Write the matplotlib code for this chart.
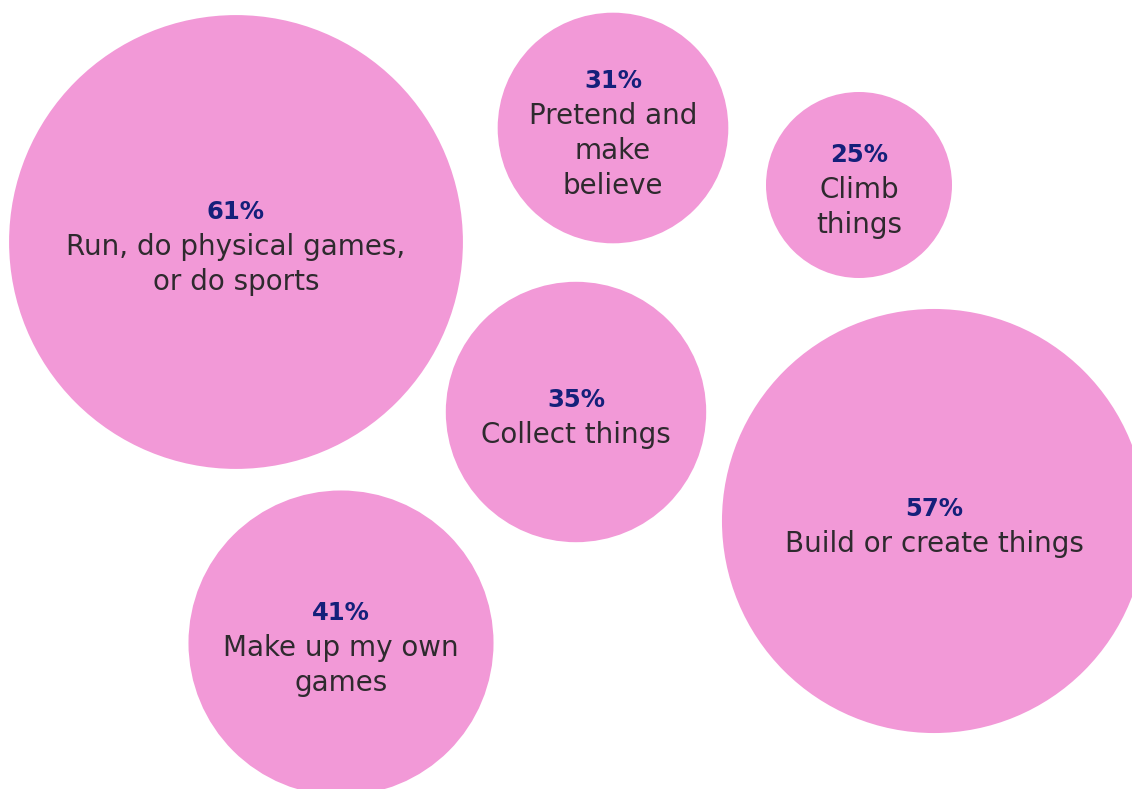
import matplotlib
matplotlib.use("Agg")
import matplotlib.pyplot as plt
from matplotlib.patches import Circle

# data
values = [61, 31, 25, 35, 57, 41]
labels = [
    "Run, do physical games,\nor do sports",
    "Pretend and\nmake\nbelieve",
    "Climb\nthings",
    "Collect things",
    "Build or create things",
    "Make up my own\ngames",
]
# bubble centres (pixel layout)
cx = [236, 613, 859, 576, 934, 341]
cy = [242, 128, 185, 412, 521, 643]

PINK = "#F299D7"
NAVY = "#14207A"
DARK = "#2E2A2E"
scale = 3.72     # radius per percentage point
line_h = 35

plt.rcParams['font.family'] = ['DejaVu Sans']

fig = plt.figure(figsize=(11.32, 7.89), dpi=100)
ax = fig.add_axes([0, 0, 1, 1])
ax.set_xlim(0, 1132)
ax.set_ylim(789, 0)
ax.set_aspect('equal')
ax.axis('off')

for v, lab, x, y in zip(values, labels, cx, cy):
    ax.add_patch(Circle((x, y), v * scale, color=PINK, lw=0))
    lines = lab.split("\n")
    n = len(lines) + 1
    y0 = y + 5 - (n - 1) / 2 * line_h
    ax.text(x, y0, f"{v}%", ha='center', va='center', fontsize=17.5,
            fontweight='bold', color=NAVY)
    for i, ln in enumerate(lines):
        ax.text(x, y0 + (i + 1) * line_h, ln, ha='center', va='center',
                fontsize=20, color=DARK)

fig.savefig("out.png", dpi=100, facecolor="white")
